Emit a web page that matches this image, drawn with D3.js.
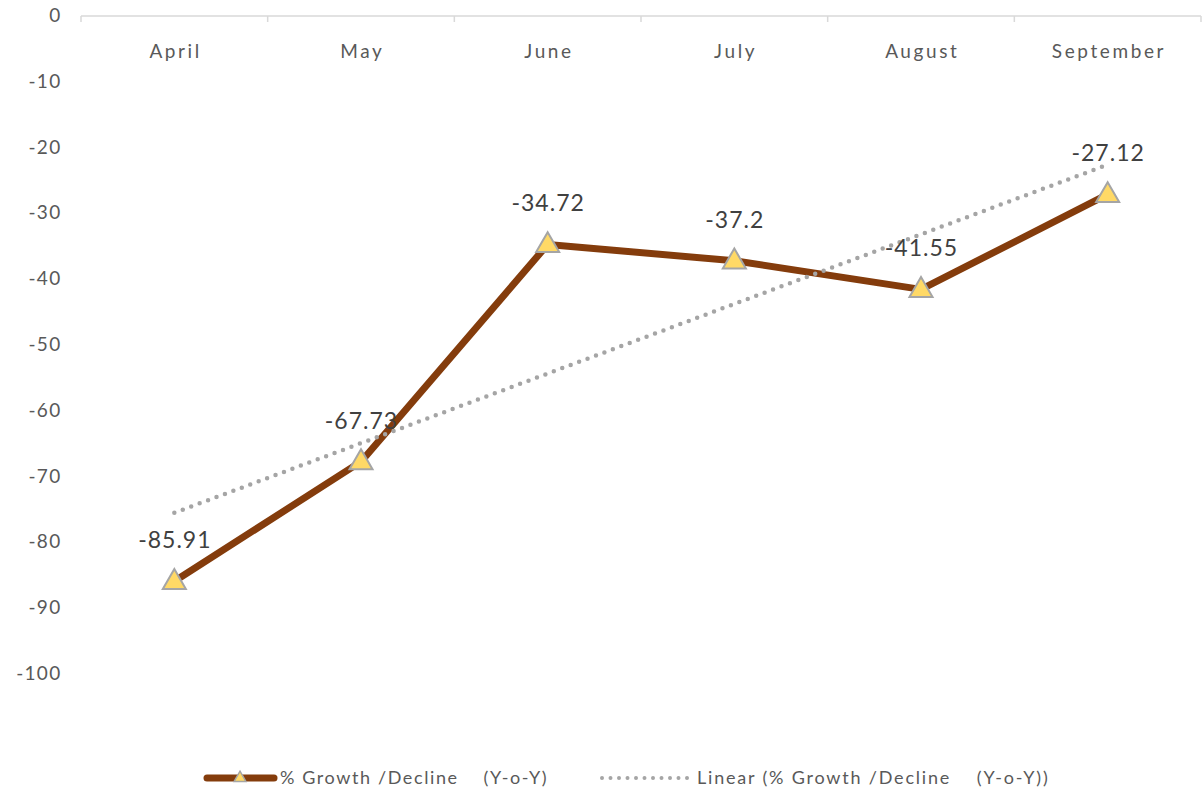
<!DOCTYPE html>
<html>
<head>
<meta charset="utf-8">
<script src="https://cdn.jsdelivr.net/npm/d3@7"></script>
<style>
  body { margin: 0; background: #fff; }
  svg { display: block; font-family: Lato, "Open Sans", sans-serif; }
</style>
</head>
<body>
<svg id="chart" width="1204" height="797"></svg>
<script>
let months = ["April", "May", "June", "July", "August", "September"];
let growth = [-85.91, -67.73, -34.72, -37.2, -41.55, -27.12];
// linear trend end points
let trendMonths = ["April", "September"];
let trendValues = [-75.5, -22.6];
let yTicks = [0, -10, -20, -30, -40, -50, -60, -70, -80, -90, -100];

let seriesName = "% Growth /Decline    (Y-o-Y)";
let trendName = "Linear (% Growth /Decline    (Y-o-Y))";

let svg = d3.select("#chart");

let x = d3.scaleBand().domain(months).range([81, 1201]);
let y = d3.scaleLinear().domain([0, -100]).range([16, 674]);
let cx = (m) => x(m) + x.bandwidth() / 2;

// category axis at the top (value 0)
let xAxis = svg.append("g").attr("transform", "translate(0," + y(0) + ")");
xAxis.append("line")
	.attr("x1", 81).attr("x2", 1201)
	.attr("stroke", "#d9d9d9").attr("stroke-width", 1.5);
xAxis.selectAll(".tk")
	.data(months.map((m) => x(m)).concat([1201]))
	.enter()
	.append("line")
	.attr("x1", (d) => d).attr("x2", (d) => d)
	.attr("y1", 0).attr("y2", 6)
	.attr("stroke", "#d9d9d9").attr("stroke-width", 1.5);
xAxis.selectAll("text")
	.data(months)
	.enter()
	.append("text")
	.attr("x", (d) => cx(d) + 1.3)
	.attr("y", 42)
	.attr("text-anchor", "middle")
	.attr("fill", "#595959")
	.attr("font-size", 19)
	.attr("letter-spacing", 2.6)
	.text((d) => d);

// value axis labels
svg.append("g")
	.selectAll("text")
	.data(yTicks)
	.enter()
	.append("text")
	.attr("x", 61.5)
	.attr("y", (d) => y(d) + 6)
	.attr("text-anchor", "end")
	.attr("fill", "#595959")
	.attr("font-size", 19)
	.attr("letter-spacing", 1.3)
	.text((d) => d);

// series line
let line = d3.line().x((d, i) => cx(months[i])).y((d) => y(d));
svg.append("path")
	.datum(growth)
	.attr("d", line)
	.attr("fill", "none")
	.attr("stroke", "#843C0C")
	.attr("stroke-width", 7)
	.attr("stroke-linejoin", "round");

// trend line
svg.append("path")
	.datum(trendValues)
	.attr("d", d3.line().x((d, i) => cx(trendMonths[i])).y((d) => y(d)))
	.attr("fill", "none")
	.attr("stroke", "#A5A5A5")
	.attr("stroke-width", 4.5)
	.attr("stroke-linecap", "round")
	.attr("stroke-dasharray", "0 9");

// triangle markers
let tri = d3.symbol().type(d3.symbolTriangle).size(230);
svg.selectAll(".marker")
	.data(growth)
	.enter()
	.append("path")
	.attr("d", tri)
	.attr("transform", (d, i) => "translate(" + cx(months[i]) + "," + (y(d) + 1) + ")")
	.attr("fill", "#FFD966")
	.attr("stroke", "#A5A5A5")
	.attr("stroke-width", 2);

// data labels
svg.selectAll(".lbl")
	.data(growth)
	.enter()
	.append("text")
	.attr("x", (d, i) => cx(months[i]) + 0.5)
	.attr("y", (d) => y(d) - 33)
	.attr("text-anchor", "middle")
	.attr("fill", "#404040")
	.attr("font-size", 23)
	.attr("letter-spacing", 1)
	.text((d) => d);

// legend
let legend = svg.append("g").attr("transform", "translate(0,778)");
legend.append("line")
	.attr("x1", 207).attr("x2", 274)
	.attr("stroke", "#843C0C").attr("stroke-width", 7).attr("stroke-linecap", "round");
legend.append("path")
	.attr("d", d3.symbol().type(d3.symbolTriangle).size(60))
	.attr("transform", "translate(240,0)")
	.attr("fill", "#FFD966").attr("stroke", "#A5A5A5").attr("stroke-width", 1.5);
legend.append("text")
	.attr("x", 280).attr("y", 6)
	.attr("fill", "#595959").attr("font-size", 18)
	.attr("letter-spacing", 1.6)
	.style("white-space", "pre")
	.text(seriesName);
legend.append("line")
	.attr("x1", 602).attr("x2", 688)
	.attr("stroke", "#A5A5A5").attr("stroke-width", 4)
	.attr("stroke-linecap", "round").attr("stroke-dasharray", "0 8.5");
legend.append("text")
	.attr("x", 697).attr("y", 6)
	.attr("fill", "#595959").attr("font-size", 18)
	.attr("letter-spacing", 1.8)
	.style("white-space", "pre")
	.text(trendName);
</script>
</body>
</html>
